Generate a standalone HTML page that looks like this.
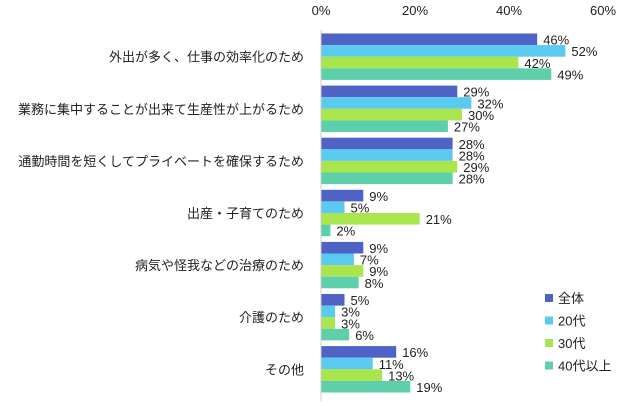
<!DOCTYPE html>
<html><head><meta charset="utf-8"><style>
body{margin:0;background:#fff}
svg text{font-family:"Liberation Sans","Noto Sans CJK JP",sans-serif;font-size:13px;fill:#222}
</style></head><body>
<svg id="c" width="626" height="401"></svg>
<script>
const categories=["外出が多く、仕事の効率化のため","業務に集中することが出来て生産性が上がるため","通勤時間を短くしてプライベートを確保するため","出産・子育てのため","病気や怪我などの治療のため","介護のため","その他"];
const seriesNames=["全体","20代","30代","40代以上"];
const s0=[46,29,28,9,9,5,16];
const s1=[52,32,28,5,7,3,11];
const s2=[42,30,29,21,9,3,13];
const s3=[49,27,28,2,8,6,19];
const ticks=[0,20,40,60];
const colors=["#4e63c5","#5bcaf0","#a9e64d","#5dcfab"];
const series=[s0,s1,s2,s3];
const svg=document.getElementById('c');
const NS="http://www.w3.org/2000/svg";
const x0=321,sc=4.7,top0=33.5,pitch=52.1,bh=11.6;
const X=v=>x0+v*sc;
function mk(t,a){const e=document.createElementNS(NS,t);for(const k in a)e.setAttribute(k,a[k]);svg.appendChild(e);return e;}
ticks.forEach(t=>{const e=mk('text',{x:X(t),y:15,'text-anchor':'middle'});e.textContent=t+'%';

});
categories.forEach((c,i)=>{const gy=top0+i*pitch;
const e=mk('text',{x:304,y:gy+bh*2+5,'text-anchor':'end'});e.textContent=c;


series.forEach((s,j)=>{const y=gy+j*bh;
const r=mk('rect',{x:x0,y:y,width:s[i]*sc,height:bh,fill:colors[j]});


const t=mk('text',{x:X(s[i])+6,y:y+bh-0.5});t.textContent=s[i]+'%';

});});
const ax=mk('line',{x1:x0,y1:30,x2:x0,y2:401,stroke:'#ccc','stroke-width':1});


seriesNames.forEach((n,j)=>{const y=298+j*22.5;
const r=mk('rect',{x:545,y:y-4,width:8,height:8,fill:colors[j]});


const t=mk('text',{x:558,y:y+5});t.textContent=n;

});
</script>
</body></html>
